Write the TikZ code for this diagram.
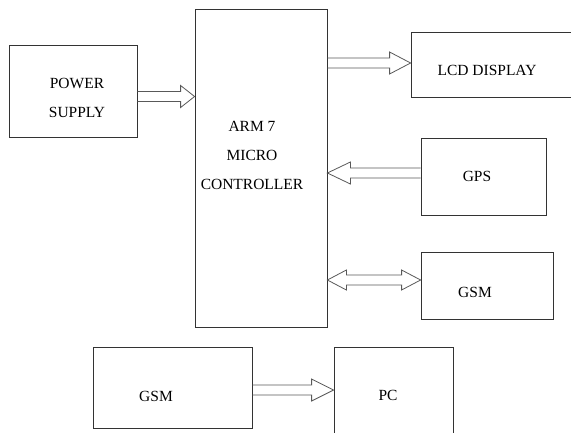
\documentclass[tikz,border=0pt]{standalone}
\usepackage{fontspec}
\setmainfont{Liberation Serif}
\usetikzlibrary{calc}

\tikzset{
  block/.style={draw=black!80, line width=0.8pt, inner sep=0pt},
  blocktext/.style={font=\fontsize{15.5}{29}\selectfont, align=center, inner sep=0pt},
  fatarrow/.style={draw=black!65, line width=0.8pt, line join=miter},
}

% hollow block arrow from #2 to #3, head length #1
\newcommand{\hollowarrow}[3][20pt]{%
  \draw[fatarrow] let \p1=(#2), \p2=(#3), \n1={sign(\x2-\x1)} in
    (\x1,\y1+5pt) -- (\x2-\n1*#1,\y1+5pt) -- (\x2-\n1*#1,\y1+11pt) -- (\x2,\y1)
    -- (\x2-\n1*#1,\y1-11pt) -- (\x2-\n1*#1,\y1-5pt) -- (\x1,\y1-5pt);}
% hollow block arrow with two heads
\newcommand{\hollowdarrow}[3][20pt]{%
  \draw[fatarrow] let \p1=(#2), \p2=(#3), \n1={sign(\x2-\x1)} in
    (\x1,\y1) -- (\x1+\n1*#1,\y1+10pt) -- (\x1+\n1*#1,\y1+5pt) -- (\x2-\n1*#1,\y1+5pt)
    -- (\x2-\n1*#1,\y1+10pt) -- (\x2,\y1) -- (\x2-\n1*#1,\y1-10pt) -- (\x2-\n1*#1,\y1-5pt)
    -- (\x1+\n1*#1,\y1-5pt) -- (\x1+\n1*#1,\y1-10pt) -- cycle;}

\begin{document}
\begin{tikzpicture}[x=1pt, y=-1pt]
  \useasboundingbox (0,0) rectangle (571,432);
  \fill[white] (0,0) rectangle (571,432);

  % blocks
  \node[block, minimum width=128pt, minimum height=92pt] (ps) at (73,91) {};
  \node[block, minimum width=132pt, minimum height=318pt] (mcu) at (261,168) {};
  \node[block, minimum width=164pt, minimum height=65pt] (lcd) at (493,64.5) {};
  \node[block, minimum width=125pt, minimum height=77pt] (gps) at (483.5,176.5) {};
  \node[block, minimum width=132pt, minimum height=67pt] (gsm) at (487,285.5) {};
  \node[block, minimum width=159pt, minimum height=81pt] (gsmb) at (172.5,387.5) {};
  \node[block, minimum width=119pt, minimum height=98pt] (pc) at (393.5,396) {};

  % labels
  \node[blocktext] (pstext) at (77,97.5) {POWER\\SUPPLY};
  \node[blocktext] (mcutext) at (252,155) {ARM 7\\MICRO\\CONTROLLER};
  \node[blocktext] (lcdtext) at (487,70) {LCD DISPLAY};
  \node[blocktext] (gpstext) at (477,176) {GPS};
  \node[blocktext] (gsmtext) at (475,292) {GSM};
  \node[blocktext] (gsmbtext) at (156,396) {GSM};
  \node[blocktext] (pctext) at (388,395) {PC};

  % links
  \hollowarrow[14pt]{ps.east |- 0,96.5}{mcu.west |- 0,96.5}
  \hollowarrow[21pt]{mcu.east |- 0,63}{lcd.west |- 0,63}
  \hollowarrow[23pt]{gps.west |- 0,173}{mcu.east |- 0,173}
  \hollowdarrow[19pt]{mcu.east |- 0,280}{gsm.west |- 0,280}
  \hollowarrow[22pt]{gsmb.east |- 0,390}{pc.west |- 0,390}
\end{tikzpicture}
\end{document}
